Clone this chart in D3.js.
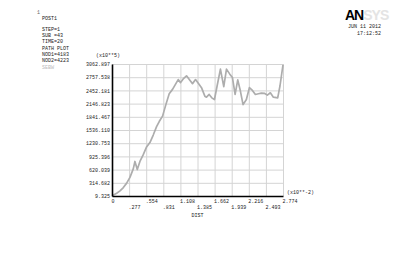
<!DOCTYPE html>
<html>
<head>
<meta charset="utf-8">
<script src="https://cdn.jsdelivr.net/npm/d3@7"></script>
<style>
  html, body { margin: 0; padding: 0; background: #fff; }
</style>
</head>
<body>
<div id="chart"></div>
<script>
// path plot data (DIST in x10**-2, value in x10**5)
const distValues = [0, 0.076, 0.130, 0.184, 0.238, 0.291, 0.345, 0.372, 0.410, 0.453, 0.507, 0.561,
  0.615, 0.669, 0.723, 0.766, 0.820, 0.874, 0.928, 0.982, 1.036, 1.074, 1.112, 1.155, 1.209,
  1.263, 1.306, 1.355, 1.403, 1.452, 1.506, 1.533, 1.576, 1.619, 1.662, 1.705, 1.759, 1.813,
  1.857, 1.911, 1.954, 1.997, 2.040, 2.083, 2.126, 2.180, 2.229, 2.278, 2.326, 2.375, 2.423,
  2.477, 2.520, 2.569, 2.618, 2.688, 2.725, 2.774];
const pathValues = [15, 72, 127, 205, 307, 440, 636, 808, 620, 808, 965, 1145,
  1246, 1419, 1614, 1732, 1857, 2123, 2374, 2476, 2609, 2703, 2632, 2718, 2789,
  2687, 2609, 2703, 2609, 2515, 2319, 2296, 2358, 2280, 2241, 2554, 2945, 2538,
  2945, 2828, 2750, 2358, 2695, 2437, 2123, 2241, 2515, 2452, 2358, 2374, 2390,
  2382, 2343, 2397, 2296, 2280, 2554, 3045];

const xTickLabels = ['0', '.277', '.554', '.831', '1.108', '1.385', '1.662', '1.939', '2.216', '2.493', '2.774'];
const yTickLabels = ['9.325', '314.682', '620.039', '925.396', '1230.753', '1536.110', '1841.467',
  '2146.823', '2452.181', '2757.538', '3062.897'];
const infoLines = ['POST1', 'STEP=1', 'SUB =43', 'TIME=20', 'PATH PLOT', 'NOD1=4183', 'NOD2=4223'];

const width = 417, height = 253;
const margin = { top: 64, right: 134, bottom: 57, left: 112 };
const innerWidth = width - margin.left - margin.right;
const innerHeight = height - margin.top - margin.bottom;
const mono = '"Liberation Mono", "DejaVu Sans Mono", monospace';

const svg = d3.select('#chart').append('svg')
  .attr('width', width)
  .attr('height', height)
  .attr('font-family', mono);

svg.append('rect').attr('width', width).attr('height', height).attr('fill', '#fff');

const g = svg.append('g')
  .attr('transform', `translate(${margin.left},${margin.top})`);

const xMax = 2.774, yMin = 9.325, yMax = 3062.897;
const xScale = d3.scaleLinear().domain([0, xMax]).range([0, innerWidth]);
const yScale = d3.scaleLinear().domain([yMin, yMax]).range([innerHeight, 0]);

const xTicks = xTickLabels.map((_, i) => i * xMax / 10);
const yTicks = yTickLabels.map((_, i) => yMin + i * (yMax - yMin) / 10);

// grid
const xGrid = g.append('g')
  .call(d3.axisBottom(xScale).tickValues(xTicks).tickSize(innerHeight).tickFormat(''));
const yGrid = g.append('g')
  .call(d3.axisLeft(yScale).tickValues(yTicks).tickSize(-innerWidth).tickFormat(''));
[xGrid, yGrid].forEach(gr => {
  gr.select('.domain').remove();
  gr.selectAll('line').style('stroke', '#d4d4d4').style('stroke-width', 1);
});

// curve
const pts = distValues.map((d, i) => [d, pathValues[i]]);
const line = d3.line().x(d => xScale(d[0])).y(d => yScale(d[1]));
g.append('path')
  .datum(pts)
  .attr('fill', 'none')
  .attr('stroke', '#adadad')
  .attr('stroke-width', 1.7)
  .attr('stroke-linejoin', 'round')
  .attr('d', line);

// axes (ANSYS puts the x labels starting at the tick, in two staggered rows)
const xAxis = g.append('g')
  .attr('transform', `translate(0,${innerHeight})`)
  .call(d3.axisBottom(xScale).tickValues(xTicks).tickSize(0).tickPadding(3)
    .tickFormat((d, i) => xTickLabels[i]));
xAxis.selectAll('text')
  .attr('text-anchor', 'start')
  .attr('x', -1)
  .attr('dy', (d, i) => i % 2 ? '1.9em' : '0.71em');

const yAxis = g.append('g')
  .call(d3.axisLeft(yScale).tickValues(yTicks).tickSize(0).tickPadding(2)
    .tickFormat((d, i) => yTickLabels[i]));

[xAxis, yAxis].forEach(ax => {
  ax.attr('font-size', 5).attr('font-family', mono);
  ax.select('.domain').style('stroke', '#000').style('stroke-width', 1.6);
  ax.selectAll('text').attr('fill', '#222');
});

g.append('text')
  .attr('x', innerWidth / 2)
  .attr('y', innerHeight + 21)
  .attr('text-anchor', 'middle')
  .attr('font-size', 5).attr('fill', '#222')
  .text('DIST');

g.append('text')
  .attr('x', innerWidth + 4)
  .attr('y', innerHeight - 2)
  .attr('font-size', 5).attr('fill', '#222')
  .text('(x10**-2)');

g.append('text')
  .attr('x', -16)
  .attr('y', -7)
  .attr('font-size', 5).attr('fill', '#222')
  .text('(x10**5)');

// info block
svg.append('text').attr('x', 37).attr('y', 14)
  .attr('font-size', 5).attr('fill', '#666').text('1');
infoLines.forEach((t, i) => {
  svg.append('text')
    .attr('x', 42)
    .attr('y', i === 0 ? 20 : 24.5 + i * 6.3)
    .attr('font-size', 5).attr('fill', '#222')
    .text(t);
});
svg.append('text').attr('x', 42).attr('y', 24.5 + 7 * 6.3)
  .attr('font-size', 5).attr('fill', '#bbb').text('SEBW');

// logo and date
const logo = svg.append('text')
  .attr('x', 345).attr('y', 20)
  .attr('font-family', '"Liberation Sans", Arial, sans-serif')
  .attr('font-size', 14).attr('font-weight', 'bold')
  .attr('letter-spacing', -1);
logo.append('tspan').attr('fill', '#000').text('AN');
logo.append('tspan').attr('fill', '#e4e4e4').text('SYS');

svg.append('text').attr('x', 381).attr('y', 28).attr('text-anchor', 'end')
  .attr('font-size', 5).attr('fill', '#222').text('JUN 11 2012');
svg.append('text').attr('x', 381).attr('y', 35).attr('text-anchor', 'end')
  .attr('font-size', 5).attr('fill', '#222').text('17:12:52');
</script>
</body>
</html>
